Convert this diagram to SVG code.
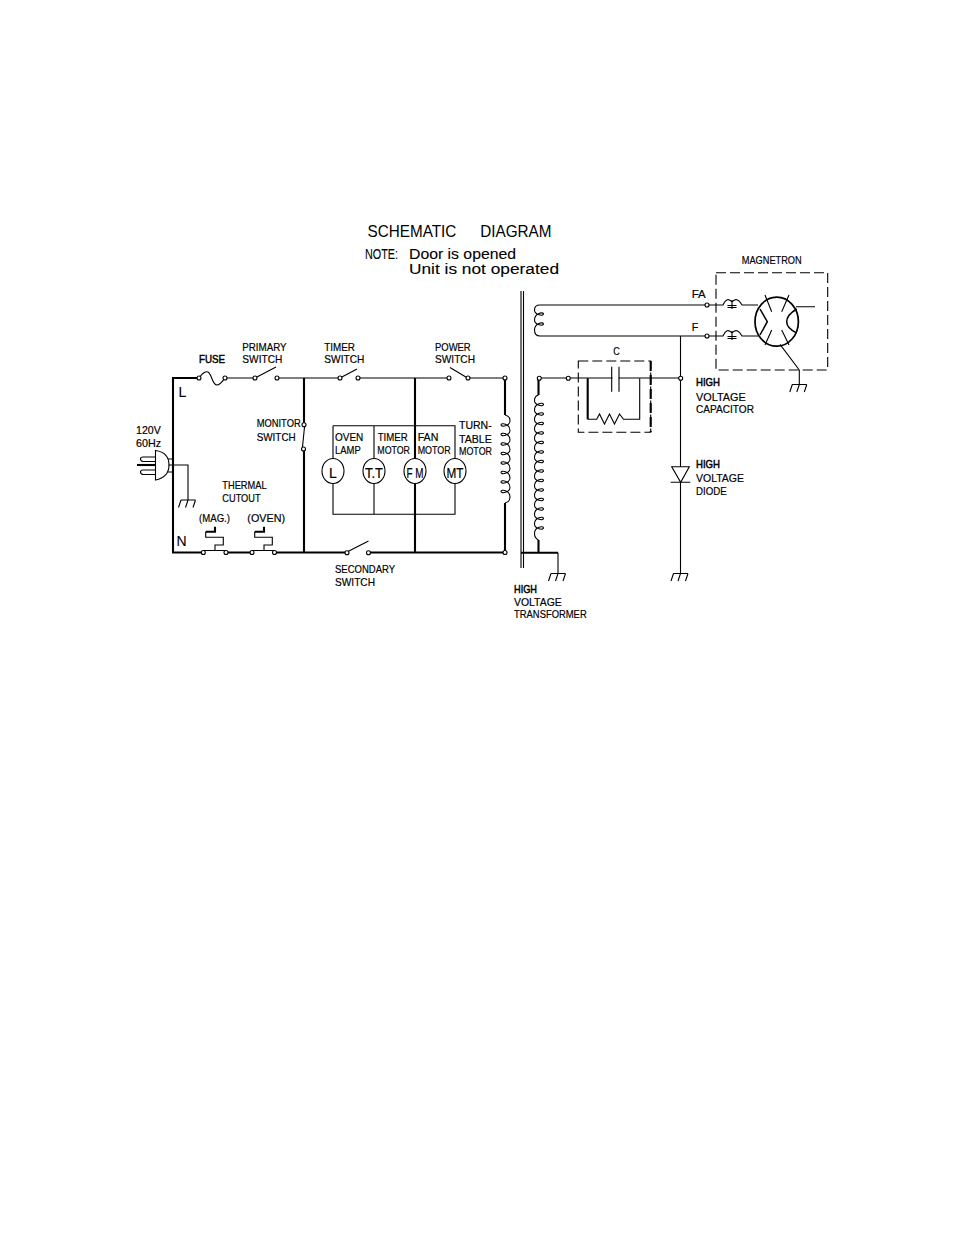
<svg xmlns="http://www.w3.org/2000/svg" width="954" height="1235" viewBox="0 0 954 1235">
<style>
.w{fill:none;stroke:#000;stroke-width:1.1}
.k{fill:none;stroke:#000;stroke-width:2.1}
.d{fill:none;stroke:#000;stroke-width:1.1;stroke-dasharray:10 4}
.t{fill:#fff;stroke:#000;stroke-width:1.1}
text{font-family:"Liberation Sans",Arial,sans-serif;font-size:11.5px;fill:#000;stroke:#000;stroke-width:.2;white-space:pre}
.b{stroke-width:.5}
.h{font-size:16.5px;word-spacing:4px;stroke-width:0}
.n{font-size:14px;stroke-width:.1}
.m{font-size:14px;text-anchor:middle}
</style>
<defs>
<g id="gnd"><path class="w" d="M-7 0H7.500M-7 0L-9.500 7.500M0 0L-2.500 7.500M7.500 0L5 7.500"/></g>
</defs>
<rect width="954" height="1235" fill="#fff"/>
<g id="connectors">
<path class="k" d="M199 378H173V552.500H203M226 552.500H252M274.500 552.500H347M368 552.500H505M304 378V424M304 449V552.500M415 378V552.500M505 378V415M505 503V552.500M521 552.700H558M538.500 378V395M538.500 540V552.700"/>
<path class="w" d="M225 378H255M277 378H340M358 378H449M468 378H505M168 459H173M168 472H173M168.500 465H188V500M333 425.700H455V459M333 425.700V459M374 425.700V459M333 483V514.300H455V483M374 483V514.300M521 291V568M523.500 291V568M540 305H707M540 336H707M539 378H680.500M680.500 336V467M680.500 482V573M558 552.700V573M799.300 370V384"/>
</g>
<g id="title">
<text class="h" x="367.500" y="237" textLength="184" lengthAdjust="spacingAndGlyphs">SCHEMATIC   DIAGRAM</text>
<text class="n" x="365" y="258.500" textLength="33" lengthAdjust="spacingAndGlyphs">NOTE:</text>
<text class="n" x="409" y="258.500" textLength="107" lengthAdjust="spacingAndGlyphs">Door is opened</text>
<text class="n" x="409" y="274" textLength="150" lengthAdjust="spacingAndGlyphs">Unit is not operated</text>
</g>
<g id="plug">
<path class="w" d="M155.500 450.500C166 452 169 459 169 465C169 472 166 478 155.500 480Z" fill="#fff" stroke-width="1.600"/>
<path class="w" d="M155 457H143Q140.500 457 140.500 459T143 461.500H155M155 470H143Q140.500 470 140.500 472T143 474.500H155"/>
<path class="k" d="M137 465H155" stroke-width="3.500"/>
<text x="136" y="434" textLength="24.700" lengthAdjust="spacingAndGlyphs">120V</text>
<text x="136" y="446.700" textLength="25" lengthAdjust="spacingAndGlyphs">60Hz</text>
<use href="#gnd" x="188" y="500"/>
<text class="n" x="178.500" y="396.700">L</text>
<text class="n" x="176.500" y="546">N</text>
</g>
<g id="fuse">
<path class="w" d="M199 378C202 373 206 371 208 372C212 374 212 385 217 385C220 385 222 382 225 378"/>
<circle class="t" cx="199" cy="378" r="2"/><circle class="t" cx="225" cy="378" r="2"/>
<text class="b" x="199" y="363.300" textLength="26" lengthAdjust="spacingAndGlyphs">FUSE</text>
</g>
<g id="primary-switch">
<path class="w" d="M255 378L276 367"/>
<circle class="t" cx="255" cy="378" r="2"/><circle class="t" cx="277" cy="378" r="2"/>
<text x="242.300" y="350.700" textLength="44.300" lengthAdjust="spacingAndGlyphs">PRIMARY</text>
<text x="242.300" y="363.300" textLength="40" lengthAdjust="spacingAndGlyphs">SWITCH</text>
</g>
<g id="timer-switch">
<path class="w" d="M340 378L357 369"/>
<circle class="t" cx="340" cy="378" r="2"/><circle class="t" cx="358" cy="378" r="2"/>
<text x="324.300" y="350.700" textLength="30.700" lengthAdjust="spacingAndGlyphs">TIMER</text>
<text x="324.300" y="363.300" textLength="40" lengthAdjust="spacingAndGlyphs">SWITCH</text>
</g>
<g id="power-switch">
<path class="w" d="M450 367.500L467.500 378"/>
<circle class="t" cx="449" cy="378" r="2"/><circle class="t" cx="468" cy="378" r="2"/>
<circle class="t" cx="505" cy="378" r="2"/>
<text x="435" y="350.700" textLength="35.700" lengthAdjust="spacingAndGlyphs">POWER</text>
<text x="435" y="363.300" textLength="40" lengthAdjust="spacingAndGlyphs">SWITCH</text>
</g>
<g id="monitor-switch">
<path class="w" d="M304.500 427L302.500 447"/>
<circle class="t" cx="304" cy="424.700" r="2"/><circle class="t" cx="303.500" cy="449" r="2"/>
<text x="256.700" y="426.700" textLength="44" lengthAdjust="spacingAndGlyphs">MONITOR</text>
<text x="256.700" y="440.700" textLength="39" lengthAdjust="spacingAndGlyphs">SWITCH</text>
</g>
<g id="thermal-cutout">
<path class="k" d="M215 526.700V531.700H205.700"/>
<path class="w" d="M205.700 531.700V537.300H223.300V545H215V550.500M203.300 550.500H226"/>
<path class="k" d="M264 526.700V531.700H254.700"/>
<path class="w" d="M254.700 531.700V537.300H272.300V545H264V550.500M252 550.500H274.500"/>
<circle class="t" cx="203.300" cy="552.500" r="2"/><circle class="t" cx="226" cy="552.500" r="2"/>
<circle class="t" cx="252" cy="552.500" r="2"/><circle class="t" cx="274.500" cy="552.500" r="2"/>
<text x="222.300" y="489" textLength="44.300" lengthAdjust="spacingAndGlyphs">THERMAL</text>
<text x="222.300" y="502" textLength="38.300" lengthAdjust="spacingAndGlyphs">CUTOUT</text>
<text x="199" y="521.700" textLength="31" lengthAdjust="spacingAndGlyphs">(MAG.)</text>
<text x="247.300" y="521.700" textLength="37.700" lengthAdjust="spacingAndGlyphs">(OVEN)</text>
</g>
<g id="secondary-switch">
<path class="w" d="M347 552L368.500 541"/>
<circle class="t" cx="347" cy="552.700" r="2"/><circle class="t" cx="368.500" cy="552.700" r="2"/>
<circle class="t" cx="505" cy="552.500" r="2"/>
<text x="335" y="573.300" textLength="60" lengthAdjust="spacingAndGlyphs">SECONDARY</text>
<text x="335" y="586" textLength="40" lengthAdjust="spacingAndGlyphs">SWITCH</text>
</g>
<g id="oven-lamp">
<ellipse class="t" cx="333" cy="471" rx="11" ry="12.500"/>
<text class="m" x="333" y="477.500">L</text>
<text x="335" y="441" textLength="28.300" lengthAdjust="spacingAndGlyphs">OVEN</text>
<text x="335" y="454.300" textLength="25.700" lengthAdjust="spacingAndGlyphs">LAMP</text>
</g>
<g id="timer-motor">
<ellipse class="t" cx="374" cy="471" rx="11" ry="12.500"/>
<text class="m" x="374" y="477.500" textLength="18" lengthAdjust="spacingAndGlyphs">T.T</text>
<text x="377.700" y="441" textLength="30" lengthAdjust="spacingAndGlyphs">TIMER</text>
<text x="377.300" y="454.300" textLength="32.700" lengthAdjust="spacingAndGlyphs">MOTOR</text>
</g>
<g id="fan-motor">
<ellipse class="t" cx="415" cy="471" rx="11" ry="12.500"/>
<text class="m" x="415" y="477.500" textLength="17" lengthAdjust="spacingAndGlyphs">F M</text>
<text x="417.700" y="441" textLength="20.700" lengthAdjust="spacingAndGlyphs">FAN</text>
<text x="417.700" y="454.300" textLength="33" lengthAdjust="spacingAndGlyphs">MOTOR</text>
</g>
<g id="turntable-motor">
<ellipse class="t" cx="455" cy="471" rx="11" ry="12.500"/>
<text class="m" x="455" y="477.500" textLength="17" lengthAdjust="spacingAndGlyphs">MT</text>
<path class="w" d="M505 415Q510 416 510 421c0 5-9 6.500-9 4c0-2.500 9-1.500 9 5.500c0 5-9 6.500-9 4c0-2.500 9-1.500 9 5.500c0 5-9 6.500-9 4c0-2.500 9-1.500 9 5.500c0 5-9 6.500-9 4c0-2.500 9-1.500 9 5.500c0 5-9 6.500-9 4c0-2.500 9-1.500 9 5.500c0 5-9 6.500-9 4c0-2.500 9-1.500 9 5.500c0 5-9 6.500-9 4c0-2.500 9-1.500 9 5.500c0 5-9 6.500-9 4c0-2.500 9-1.500 9 5.500Q510 502 505 503"/>
<text x="459" y="429" textLength="32.700" lengthAdjust="spacingAndGlyphs">TURN-</text>
<text x="459" y="442.700" textLength="32.700" lengthAdjust="spacingAndGlyphs">TABLE</text>
<text x="459" y="455" textLength="33" lengthAdjust="spacingAndGlyphs">MOTOR</text>
</g>
<g id="transformer">
<path class="w" d="M540 305Q534.500 305 534.500 310c0 5 9 6.500 9 4c0-2.500-9-1-9 6c0 5 9 6.500 9 4c0-2.500-9-1-9 6Q534.500 336 540 336"/>
<path class="w" d="M538.500 395Q534.500 396 534.500 400.500c0 5 9 6.500 9 4c0-2.500-9-1.500-9 5.500c0 5 9 6.500 9 4c0-2.500-9-1.500-9 5.500c0 5 9 6.500 9 4c0-2.500-9-1.500-9 5.500c0 5 9 6.500 9 4c0-2.500-9-1.500-9 5.500c0 5 9 6.500 9 4c0-2.500-9-1.500-9 5.500c0 5 9 6.500 9 4c0-2.500-9-1.500-9 5.500c0 5 9 6.500 9 4c0-2.500-9-1.500-9 5.500c0 5 9 6.500 9 4c0-2.500-9-1.500-9 5.500c0 5 9 6.500 9 4c0-2.500-9-1.500-9 5.500c0 5 9 6.500 9 4c0-2.500-9-1.500-9 5.500c0 5 9 6.500 9 4c0-2.500-9-1.500-9 5.500c0 5 9 6.500 9 4c0-2.500-9-1.500-9 5.500c0 5 9 6.500 9 4c0-2.500-9-1.500-9 5.500c0 5 9 6.500 9 4c0-2.500-9-1.500-9 5.500Q534.500 538 538.500 540"/>
<circle class="t" cx="539.300" cy="378.300" r="2"/>
<use href="#gnd" x="558" y="573.500"/>
<text class="b" x="514" y="592.700" textLength="23" lengthAdjust="spacingAndGlyphs">HIGH</text>
<text x="514" y="605.700" textLength="47.700" lengthAdjust="spacingAndGlyphs">VOLTAGE</text>
<text x="514" y="618.300" textLength="72.700" lengthAdjust="spacingAndGlyphs">TRANSFORMER</text>
</g>
<g id="capacitor">
<rect class="d" x="578.300" y="361" width="72.400" height="71.300"/>
<path class="k" d="M650.700 361V432" stroke-dasharray="10 4"/>
<path class="k" d="M587.700 378.300V419.300"/>
<rect x="612.500" y="374" width="6" height="8" fill="#fff"/>
<path class="w" d="M611.700 366.700V391.700M619 366.700V391.700M587.700 419.300H596.700L599.500 414L604.500 424L609.500 414L614.500 424L619.500 414L623.500 419.300H639.700V378.300"/>
<circle class="t" cx="568.300" cy="378.300" r="2"/>
<circle class="t" cx="680.700" cy="378.300" r="2"/>
<text x="613.300" y="355" textLength="6.500" lengthAdjust="spacingAndGlyphs">C</text>
<text class="b" x="696" y="385.500" textLength="24" lengthAdjust="spacingAndGlyphs">HIGH</text>
<text x="696" y="400.700" textLength="49.700" lengthAdjust="spacingAndGlyphs">VOLTAGE</text>
<text x="696" y="413" textLength="58" lengthAdjust="spacingAndGlyphs">CAPACITOR</text>
</g>
<g id="diode">
<path class="w" d="M671.700 466.700H689.300L680.700 482.300ZM670.700 482.300H690.300"/>
<use href="#gnd" x="680.500" y="573.500"/>
<text class="b" x="696" y="468.300" textLength="24" lengthAdjust="spacingAndGlyphs">HIGH</text>
<text x="696" y="481.700" textLength="48" lengthAdjust="spacingAndGlyphs">VOLTAGE</text>
<text x="696" y="495" textLength="30.700" lengthAdjust="spacingAndGlyphs">DIODE</text>
</g>
<g id="magnetron">
<rect class="d" x="716" y="272.700" width="111.700" height="97.300"/>
<path class="w" d="M709 305H723Q727 296 732 302Q737 296 742 305H758M709 336H723Q727 327 732 333Q737 327 742 336H758M732 300V309M727.500 305.500H736.500M727.500 307.500H736.500M732 331V340M727.500 336.500H736.500M727.500 338.500H736.500"/>
<ellipse cx="776.700" cy="321.700" rx="21.700" ry="24.500" fill="none" stroke="#000" stroke-width="1.700"/>
<path class="w" d="M765 295L771.700 311.700M789 295L781.700 311.700M765 345L771.700 330M789 345L781.700 330M796 306.700H815M780 344.300L799.300 370"/>
<path class="w" style="stroke-width:1.500" d="M760 309L767.300 321.700L760 335M796.700 309Q786.700 315 786.700 321.700Q786.700 328 796.700 333"/>
<circle class="t" cx="707" cy="305" r="2"/><circle class="t" cx="707" cy="336" r="2"/>
<use href="#gnd" x="799.300" y="384.500"/>
<text x="691.700" y="298.300" textLength="14" lengthAdjust="spacingAndGlyphs">FA</text>
<text x="691.700" y="331" textLength="6.500" lengthAdjust="spacingAndGlyphs">F</text>
<text x="741.700" y="264" textLength="60" lengthAdjust="spacingAndGlyphs">MAGNETRON</text>
</g>
</svg>
